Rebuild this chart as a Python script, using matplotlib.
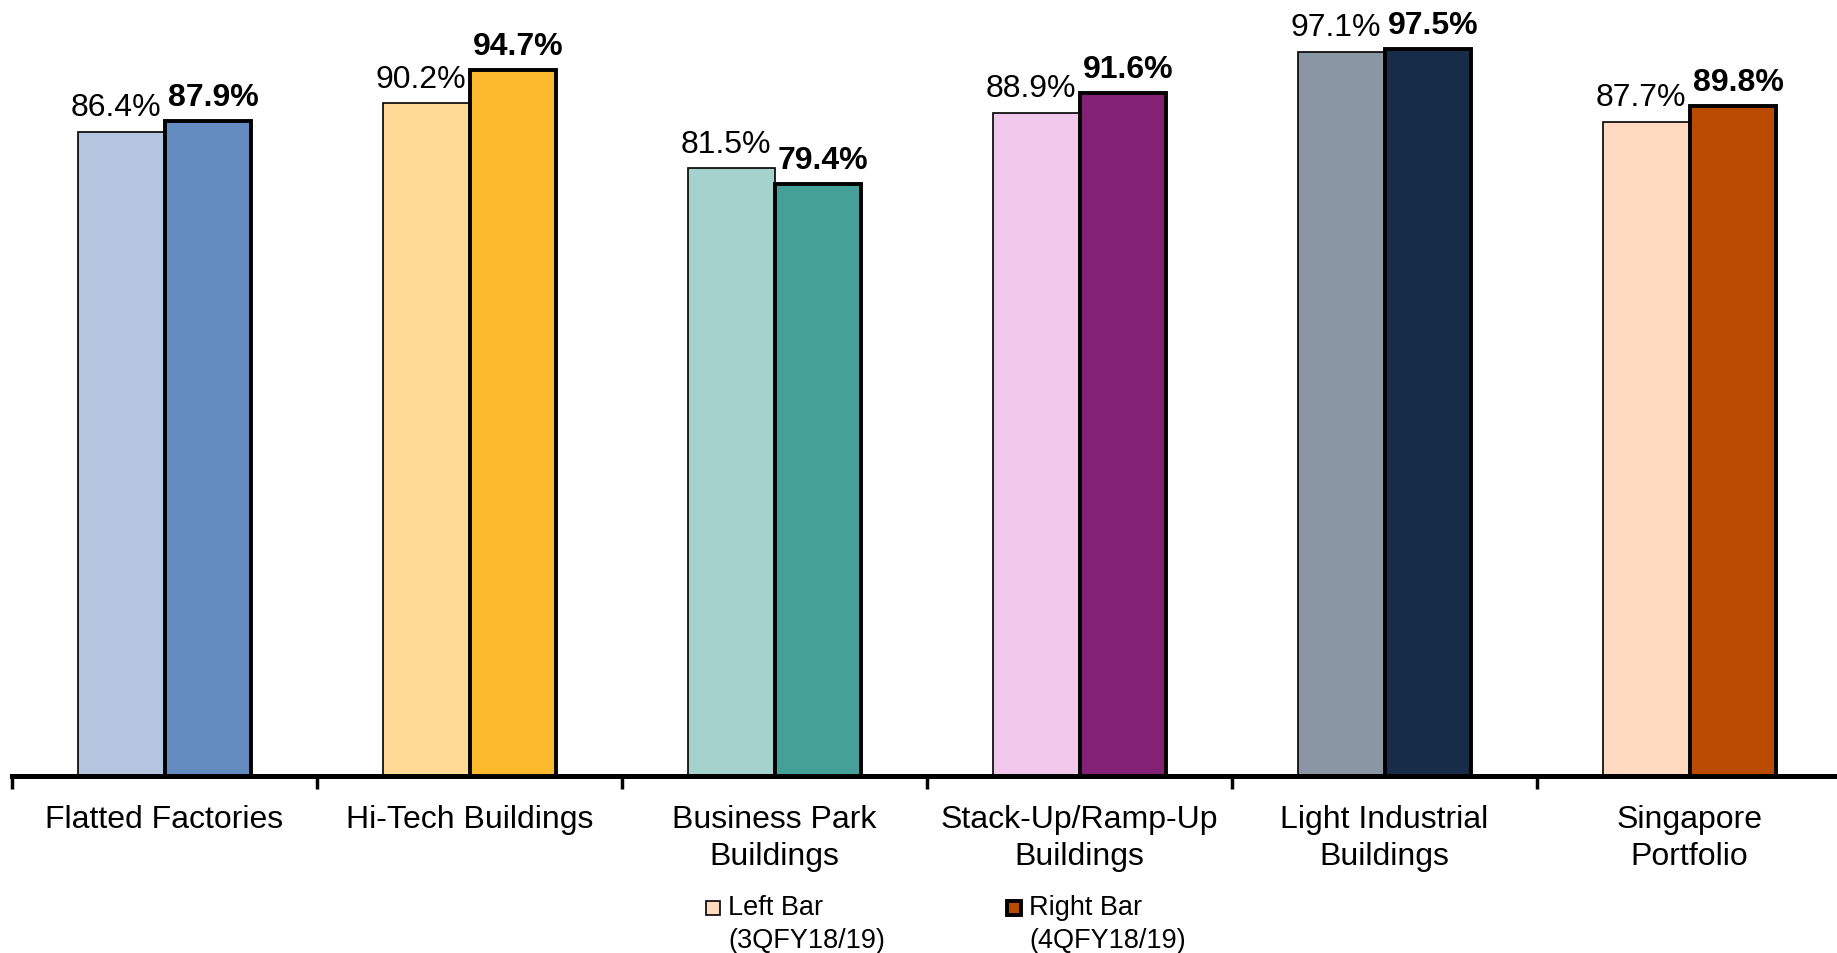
import matplotlib.pyplot as plt
from matplotlib.patches import Rectangle
import numpy as np

plt.rcParams['font.family'] = ['Liberation Sans', 'DejaVu Sans']

categories = ['Flatted Factories', 'Hi-Tech Buildings', 'Business Park\nBuildings',
              'Stack-Up/Ramp-Up\nBuildings', 'Light Industrial\nBuildings', 'Singapore\nPortfolio']
left_vals = [86.4, 90.2, 81.5, 88.9, 97.1, 87.7]
right_vals = [87.9, 94.7, 79.4, 91.6, 97.5, 89.8]
left_colors = ['#B3C5DF', '#FFDA96', '#A5D2CD', '#F1C8EC', '#8A96A4', '#FFD9C0']
right_colors = ['#658CC0', '#FDB92E', '#45A097', '#832274', '#172C48', '#BA4A00']
legend_labels = ['Left Bar', 'Right Bar']
legend_periods = ['(3QFY18/19)', '(4QFY18/19)']

W, H = 1837, 954
fig = plt.figure(figsize=(W / 100, H / 100), dpi=100)
ax = fig.add_axes([12 / W, 1 - 777 / H, 1830 / W, 777 / H])

x = np.arange(len(categories))
bw = 0.282
ax.bar(x - bw / 2, left_vals, bw, color=left_colors, edgecolor='black', linewidth=1.2, zorder=2)
ax.bar(x + bw / 2, right_vals, bw, color=right_colors, edgecolor='black', linewidth=2.8, zorder=3)

for xi, v in zip(x, left_vals):
    ax.annotate(f'{v:.1f}%', (xi - bw / 2, v), xytext=(-4, 12), textcoords='offset points',
                ha='center', va='baseline', fontsize=23)
for xi, v in zip(x, right_vals):
    ax.annotate(f'{v:.1f}%', (xi + bw / 2, v), xytext=(4, 11.5), textcoords='offset points',
                ha='center', va='baseline', fontsize=23, fontweight='bold')

ax.set_xlim(-0.5, len(categories) - 0.5)
ax.set_ylim(0, 104.2)
for s in ['top', 'right', 'left']:
    ax.spines[s].set_visible(False)
ax.spines['bottom'].set_linewidth(3.6)
ax.set_yticks([])
ax.set_xticks(x)
ax.set_xticklabels(categories, fontsize=23, linespacing=1.3)
ax.tick_params(axis='x', which='major', length=0, pad=20)
ax.set_xticks(np.arange(-0.5, len(categories)), minor=True)
ax.tick_params(axis='x', which='minor', direction='out', length=9, width=2.5)

# legend drawn by hand so the period sits on a second line
leg_x = [706 / W, 1007 / W]
for i in range(2):
    lw = 1.2 if i == 0 else 2.8
    fc = left_colors[-1] if i == 0 else right_colors[-1]
    fig.add_artist(Rectangle((leg_x[i], 1 - 916 / H), 14 / W, 14 / H, transform=fig.transFigure,
                             facecolor=fc, edgecolor='black', linewidth=lw))
    fig.text(leg_x[i] + 22 / W, 1 - 908 / H, legend_labels[i], fontsize=19.5, va='center', ha='left')
    fig.text(leg_x[i] + 22 / W, 1 - 941 / H, legend_periods[i], fontsize=19.5, va='center', ha='left')

fig.savefig('out.png', dpi=100)
